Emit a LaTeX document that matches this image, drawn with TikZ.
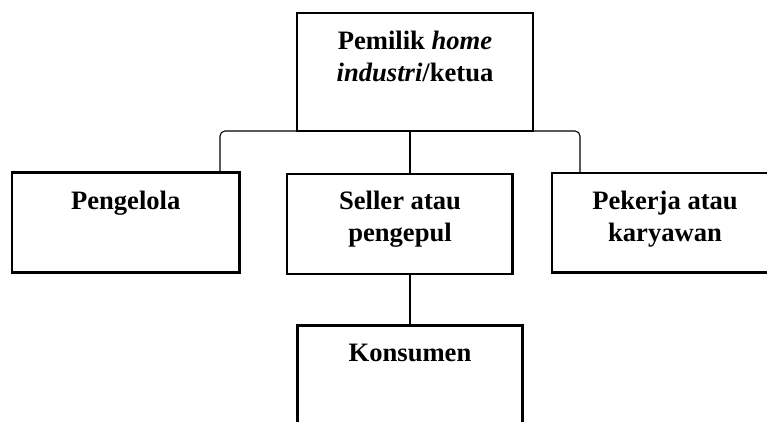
\documentclass[tikz,border=0pt]{standalone}
\usepackage{fontspec}
\setmainfont{Liberation Serif}
\begin{document}
\begin{tikzpicture}[x=1pt,y=-1pt,
  box/.style={draw, line width=2.8pt, outer sep=0pt, inner sep=0pt},
  lbl/.style={font=\fontsize{26.6}{32.7}\selectfont\bfseries, align=center, anchor=base, inner sep=0pt},
  conn/.style={line width=1.8pt},
  thinconn/.style={line width=1.1pt, rounded corners=5pt}]
\useasboundingbox (0,0) rectangle (767,421);
\fill[white] (0,0) rectangle (767,421);
% boxes
\node[box, minimum width=236pt, minimum height=118pt] (top) at (415,72) {};
\node[box, minimum width=227.5pt, minimum height=100.2pt] (peng) at (125.75,222.6) {};
\node[box, minimum width=225.5pt, minimum height=100pt] (sell) at (399.75,224) {};
\node[box, minimum width=226pt, minimum height=99.7pt] (pek) at (665,222.85) {};
\node[box, minimum width=225.4pt, minimum height=100.3pt] (kon) at (410,375.85) {};
% texts (base anchor = baseline of the last line)
\node[lbl] (toptxt) at (415,81.7) {Pemilik \textit{home}\\\textit{industri}/ketua};
\node[lbl] (pengtxt) at (125.75,209.3) {Pengelola};
\node[lbl] (selltxt) at (400,241.7) {Seller atau\\pengepul};
\node[lbl] (pektxt) at (665,241.7) {Pekerja atau\\karyawan};
\node[lbl] (kontxt) at (410,361.7) {Konsumen};
% connectors
\coordinate (lj) at (220,172.5);
\coordinate (rj) at (580,173);
\draw[thinconn] (lj) |- (top.south) -| (rj);
\draw[conn] (top.south -| kon.north) -- (sell.north -| kon.north);
\draw[conn] (sell.south -| kon.north) -- (kon.north);
\end{tikzpicture}
\end{document}
